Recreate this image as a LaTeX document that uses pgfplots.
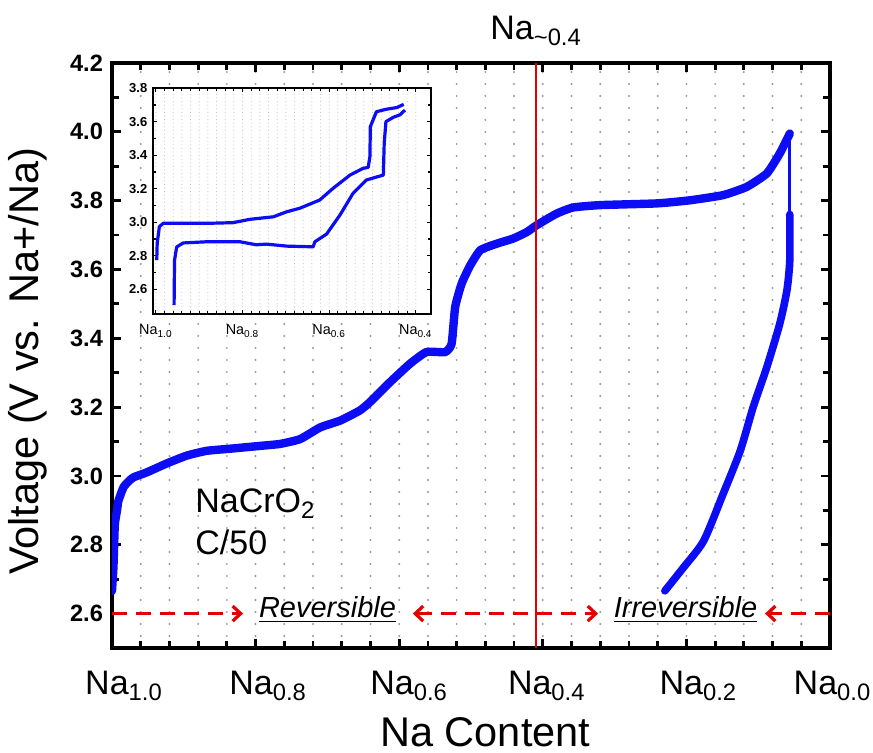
\documentclass[border=0pt]{standalone}
\usepackage{pgfplots}
\pgfplotsset{compat=1.18}
\usepackage{fontspec}
\setmainfont{Liberation Sans}
\usetikzlibrary{arrows.meta}

\definecolor{curveblue}{RGB}{12,12,245}
\definecolor{markred}{RGB}{228,0,0}
\definecolor{dotgray}{RGB}{150,150,150}

% x tick label with a hand-placed horizontal offset
\newcommand{\nalab}[2]{\hspace*{#1}Na\textsubscript{#2}}

\pgfplotsset{
  onedecimal/.style={
    /pgf/number format/fixed,
    /pgf/number format/fixed zerofill,
    /pgf/number format/precision=1,
    /pgf/number format/assume math mode=true,
  },
}

\begin{document}
\begin{tikzpicture}
\path[use as bounding box] (0,0) rectangle (436.5pt,376.5pt);

% ---------------- main charge/discharge profile ----------------
\begin{axis}[
  at={(56pt,52.5pt)}, anchor=south west,
  scale only axis, width=359pt, height=292.5pt,
  x dir=reverse,
  xmin=0, xmax=1, ymin=2.5, ymax=4.2,
  xtick={0,0.2,0.4,0.6,0.8,1},
  xticklabels={\nalab{2.5pt}{0.0},\nalab{12pt}{0.2},\nalab{4pt}{0.4},\nalab{10pt}{0.6},\nalab{12.5pt}{0.8},\nalab{12pt}{1.0}},
  minor x tick num=4,
  ytick={2.6,2.8,3.0,3.2,3.4,3.6,3.8,4.0,4.2},
  minor y tick num=1,
  onedecimal,
  yticklabel style={font=\fontsize{11.8}{13}\selectfont\bfseries, xshift=-1pt},
  xticklabel style={font=\fontsize{17}{19}\selectfont, anchor=base, yshift=-23.5pt},
  tick align=inside,
  axis line style={line width=2pt},
  major tick length=4.5pt, minor tick length=3.5pt,
  every tick/.style={black, line width=1.4pt},
  xmajorgrids, xminorgrids,
  grid style={dotgray, line width=1.1pt, line cap=round, dash pattern=on 0pt off 6pt},
  every axis y label/.style={at={(axis description cs:-0.117,0.49)}, rotate=90, anchor=center},
  every axis x label/.style={at={(axis description cs:0.52,-0.168)}, anchor=base, inner sep=0pt},
  ylabel={Voltage (V vs. Na+/Na)},
  xlabel={Na Content},
  label style={font=\fontsize{20.75}{23}\selectfont},
]
% first charge
\addplot[curveblue, line width=4.2pt, line join=round, line cap=round, smooth, tension=0.3] table {
x y
1.000 2.666
0.999 2.700
0.998 2.734
0.997 2.800
0.996 2.861
0.993 2.900
0.991 2.928
0.984 2.967
0.977 2.984
0.970 2.996
0.952 3.010
0.924 3.036
0.896 3.059
0.868 3.073
0.836 3.079
0.790 3.088
0.766 3.093
0.738 3.107
0.710 3.141
0.682 3.161
0.655 3.190
0.641 3.214
0.613 3.272
0.585 3.326
0.562 3.360
0.536 3.360
0.527 3.384
0.522 3.491
0.513 3.559
0.501 3.612
0.487 3.656
0.464 3.675
0.441 3.690
0.422 3.709
0.409 3.728
0.381 3.762
0.358 3.780
0.320 3.787
0.241 3.792
0.195 3.801
0.149 3.816
0.116 3.840
0.088 3.879
0.070 3.937
0.056 3.995
};
% sparse points at the start of discharge
\addplot[curveblue, line width=1.4pt] table {
x y
0.056 3.995
0.056 3.760
};
% first discharge
\addplot[curveblue, line width=3.8pt, line join=round, line cap=round, smooth, tension=0.4] table {
x y
0.056 3.760
0.056 3.626
0.060 3.539
0.070 3.442
0.088 3.316
0.107 3.200
0.125 3.073
0.149 2.947
0.176 2.811
0.204 2.734
0.230 2.666
};
% composition limit
\addplot[markred, line width=1.4pt] coordinates {(0.4095,2.5) (0.4095,4.2)};

% reversible / irreversible ranges
\begin{scope}[markred, line width=1.6pt, dash pattern=on 7.5pt off 4.5pt,
              >={Straight Barb[length=4pt,width=7.5pt]}]
\draw[->] (axis cs:1.0,2.6) -- (axis cs:0.8175,2.6);
\draw[<->] (axis cs:0.581,2.6) -- (axis cs:0.323,2.6);
\draw[->] (axis cs:0.0,2.6) -- (axis cs:0.0905,2.6);
\end{scope}
\end{axis}

% ---------------- inset: first cycles to Na0.4 ----------------
\begin{axis}[
  at={(76.65pt,219.5pt)}, anchor=south west,
  scale only axis, width=138.85pt, height=112.85pt,
  x dir=reverse,
  xmin=0.365, xmax=1.006, ymin=2.453, ymax=3.8,
  axis background/.style={fill=white},
  xtick={0.4,0.6,0.8,1.0},
  xticklabels={Na\textsubscript{0.4},Na\textsubscript{0.6},Na\textsubscript{0.8},Na\textsubscript{1.0}},
  minor x tick num=9,
  ytick={2.6,2.8,3.0,3.2,3.4,3.6,3.8},
  minor y tick num=1,
  onedecimal,
  yticklabel style={font=\fontsize{6.5}{8}\selectfont\bfseries, xshift=0.5pt},
  xticklabel style={font=\fontsize{7.2}{8.5}\selectfont, anchor=base, yshift=-10.5pt},
  tick align=inside,
  axis line style={line width=0.8pt},
  major tick length=2pt, minor tick length=1.4pt,
  every tick/.style={black, line width=0.6pt},
  xmajorgrids, xminorgrids,
  grid style={gray!55, line width=0.5pt, line cap=round, dash pattern=on 0pt off 1.8pt},
]
\addplot[curveblue, line width=1.6pt, line join=round] table {
x y
0.998 2.774
0.997 2.875
0.992 2.974
0.983 2.994
0.937 2.994
0.883 2.994
0.822 2.998
0.783 3.018
0.729 3.033
0.698 3.063
0.668 3.084
0.622 3.133
0.591 3.203
0.552 3.282
0.522 3.322
0.510 3.328
0.506 3.392
0.505 3.571
0.491 3.660
0.468 3.675
0.444 3.685
0.428 3.704
};
\addplot[curveblue, line width=1.6pt, line join=round] table {
x y
0.958 2.506
0.957 2.774
0.952 2.853
0.937 2.877
0.883 2.884
0.806 2.884
0.768 2.866
0.745 2.870
0.698 2.858
0.637 2.854
0.633 2.884
0.606 2.930
0.575 3.044
0.545 3.173
0.514 3.253
0.475 3.282
0.473 3.472
0.469 3.601
0.452 3.627
0.437 3.641
0.425 3.670
};
\end{axis}

% ---------------- annotations ----------------
\node[anchor=base west, font=\fontsize{17}{19}\selectfont, inner sep=0pt] at (245pt,356.5pt) {Na\textsubscript{\textasciitilde 0.4}};
\node[anchor=base west, font=\fontsize{17}{19}\selectfont, inner sep=0pt] at (97.5pt,120pt) {NaCrO\textsubscript{2}};
\node[anchor=base west, font=\fontsize{17}{19}\selectfont, inner sep=0pt] at (97.5pt,99pt) {C/50};
\node[anchor=base, font=\fontsize{14.5}{16}\selectfont, inner sep=0pt] at (163.75pt,67.5pt) {\underline{\textit{Reversible}}};
\node[anchor=base, font=\fontsize{14.5}{16}\selectfont, inner sep=0pt] at (342.75pt,67.5pt) {\underline{\textit{Irreversible}}};
\end{tikzpicture}
\end{document}
